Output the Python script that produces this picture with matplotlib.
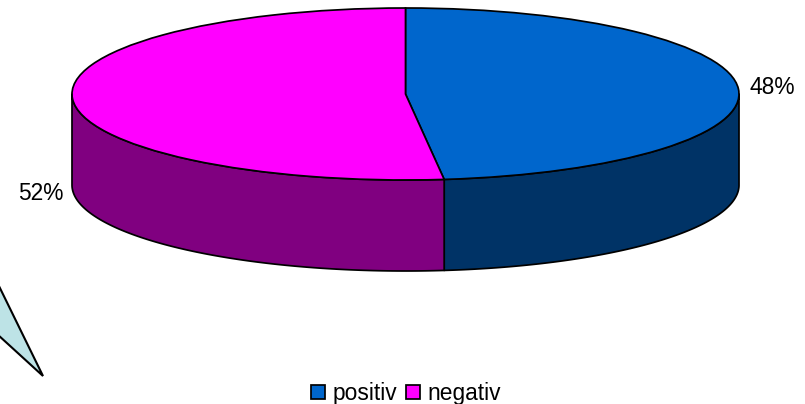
import numpy as np
import matplotlib
matplotlib.use("Agg")
import matplotlib.pyplot as plt
from matplotlib.patches import Polygon

labels = ["positiv", "negativ"]
shares = [48.15, 51.85]
pct_labels = ["48%", "52%"]
top_colors = ["#0066CC", "#FF00FF"]
side_colors = ["#003366", "#800080"]
callout_fill = "#BDE3E6"
callout_px = [(-3, 282), (43, 376), (-3, 334)]

W, H = 805, 404
CX, CY, RX, RY, DEPTH = 405.5, 94.0, 333.5, 86.0, 91.0
plt.rcParams["font.family"] = ["Liberation Sans", "DejaVu Sans"]
FS = 16.4
EDGE = 1.25

fig = plt.figure(figsize=(W / 100, H / 100), dpi=100)
ax = fig.add_axes([0, 0, 1, 1])

# Axes in "radius units": one unit is RX px horizontally, RY px vertically
cx, cy = CX / RX, (H - CY) / RY
depth = DEPTH / RY
wedges, _ = ax.pie(shares, colors=top_colors, startangle=90, counterclock=False,
                   center=(cx, cy), radius=1.0,
                   wedgeprops=dict(edgecolor="black", linewidth=EDGE, zorder=3))
ax.set_aspect("auto")
ax.set_xlim(0, W / RX)
ax.set_ylim(0, H / RY)
ax.set_axis_off()

# Side walls of the 3D pie, from the same shares
boundary = 90 - 360 * shares[0] / sum(shares)
arcs = [(0, boundary), (boundary, -180)]
for (a0, a1), col in zip(arcs, side_colors):
    t = np.radians(np.linspace(a0, a1, 120))
    xs, ys = cx + np.cos(t), cy + np.sin(t)
    pts = np.r_[np.c_[xs, ys], np.c_[xs, ys - depth][::-1]]
    ax.add_patch(Polygon(pts, closed=True, facecolor=col, edgecolor="black",
                         linewidth=EDGE, zorder=2, joinstyle="round"))

# Value labels
ax.text(749 / RX, (H - 87) / RY, pct_labels[0], fontsize=FS, va="center", ha="left", color="black")
ax.text(63 / RX, (H - 194) / RY, pct_labels[1], fontsize=FS, va="center", ha="right", color="black")

# Callout fragment from the lower left
ax.add_patch(Polygon([(x / RX, (H - y) / RY) for x, y in callout_px], closed=True,
                     facecolor=callout_fill, edgecolor="black", linewidth=1.5,
                     joinstyle="miter", zorder=4, clip_on=True))

# Legend
fig.legend(wedges, labels, loc="center", bbox_to_anchor=(406 / W, 1 - 393.5 / H),
           ncol=2, frameon=False, fontsize=FS, handlelength=0.62, handleheight=0.62,
           handletextpad=0.3, columnspacing=0.42, borderpad=0, borderaxespad=0)

fig.savefig("out.png", dpi=100, facecolor="white")
